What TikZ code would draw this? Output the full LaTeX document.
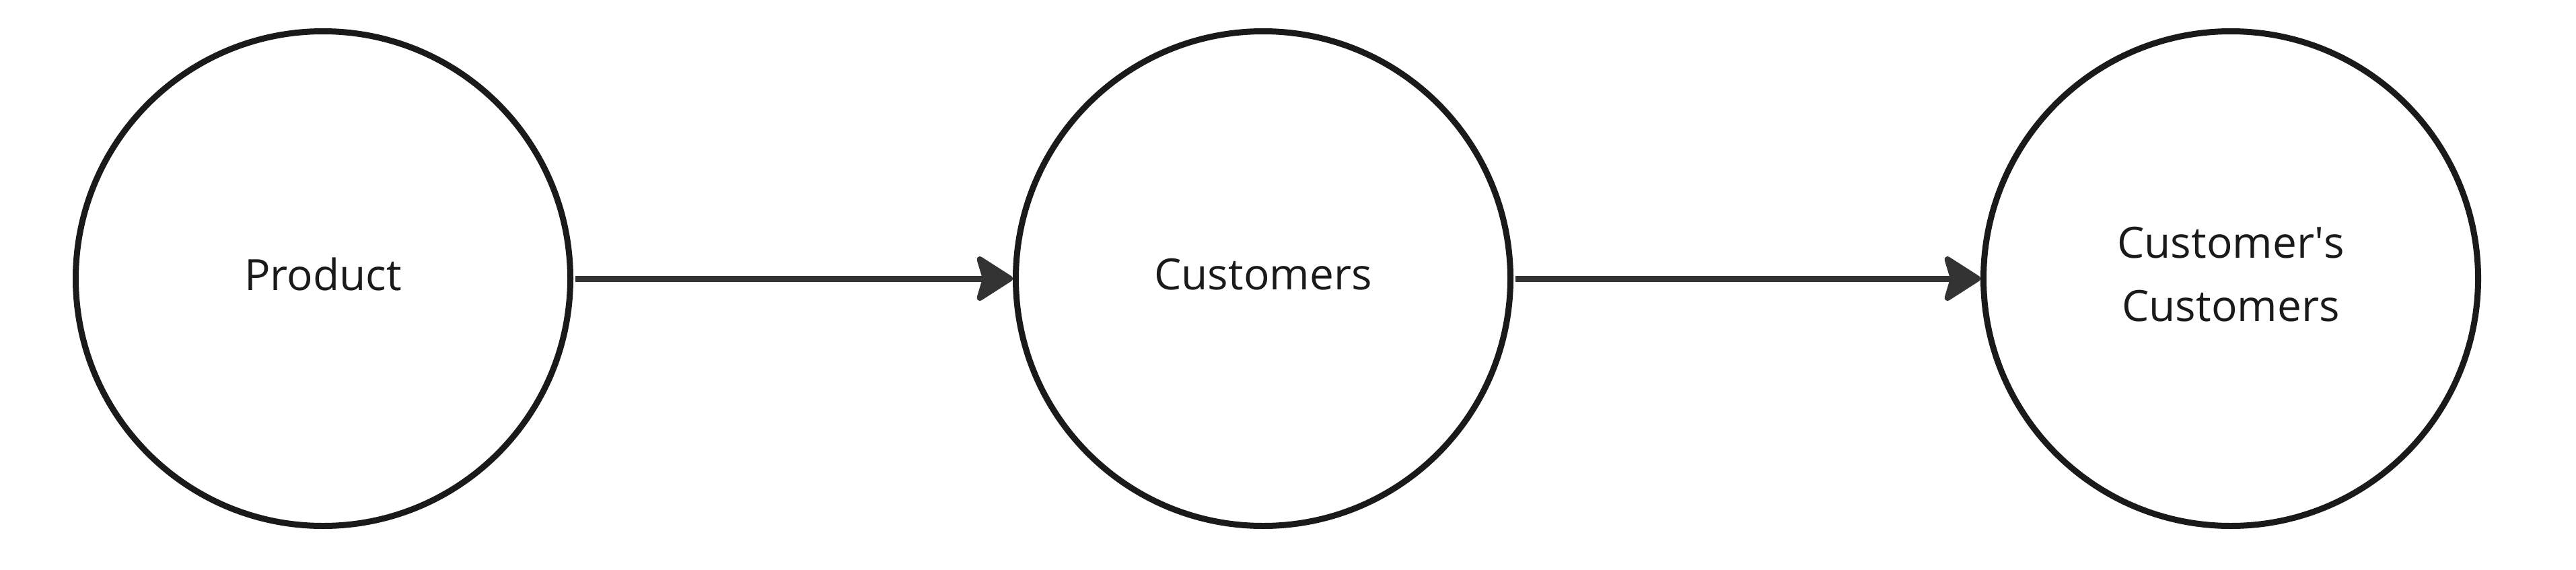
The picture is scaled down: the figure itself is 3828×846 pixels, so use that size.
\documentclass[tikz,border=0pt]{standalone}
\usepackage{fontspec}
\setmainfont{Open Sans}
\usetikzlibrary{arrows.meta}

\tikzset{every picture/.style={line width=0.75pt}}
\tikzset{
  bubble/.style={circle, draw={rgb,255:red,26;green,26;blue,26}, line width=2.25pt,
    minimum size=183.75pt, inner sep=0pt, align=center, text depth=3.5pt,
    font=\fontsize{16}{23.5}\selectfont, text={rgb,255:red,26;green,26;blue,26}},
  flow/.style={draw={rgb,255:red,51;green,51;blue,51}, line width=2.25pt,
    -{Stealth[length=15pt, width=19pt, inset=2.75pt, round]}, shorten <=0.75pt}
}

\begin{document}
\begin{tikzpicture}[x=0.25pt,y=0.25pt,yscale=-1]
%set diagram left start at 0, and has height of 846
\path[use as bounding box] (0,0) rectangle (3828,846);

%Shape: Circle [id:product]
\node [bubble] (product) at (480,414) {Product};
%Shape: Circle [id:customers]
\node [bubble] (customers) at (1877,414) {Customers};
%Shape: Circle [id:endcustomers]
\node [bubble] (endcustomers) at (3315,414) {Customer\textquotesingle s\\Customers};

%Straight Lines [id:productarrow]
\draw [flow] (product) -- (customers) ;
%Straight Lines [id:customersarrow]
\draw [flow] (customers) -- (endcustomers) ;

\end{tikzpicture}
\end{document}
